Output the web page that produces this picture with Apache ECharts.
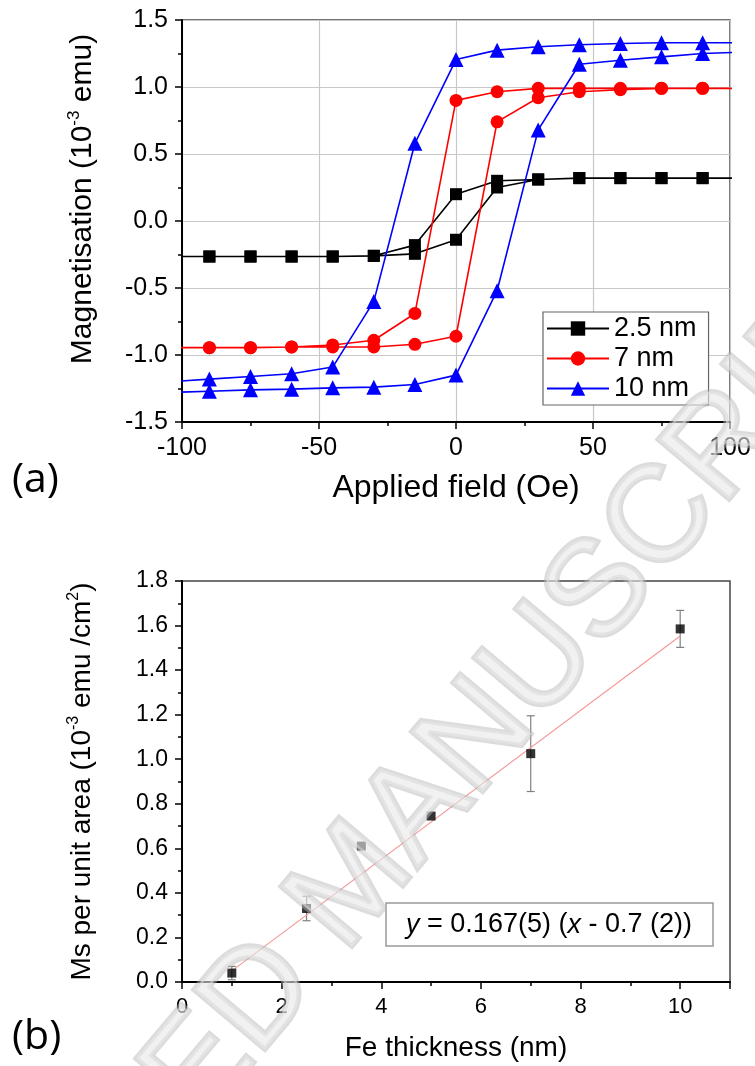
<!DOCTYPE html>
<html><head><meta charset="utf-8">
<script src="https://cdn.jsdelivr.net/npm/echarts@6/dist/echarts.min.js"></script>
<style>html,body{margin:0;padding:0;background:#fff}#c{width:755px;height:1066px}</style>
</head><body><div id="c"></div>
<script>
// ---------- Panel (a): hysteresis loops ----------
const fieldDesc = [105, 90, 75, 60, 45, 30, 15, 0, -15, -30, -45, -60, -75, -90, -105];
const fieldAsc  = [-105, -90, -75, -60, -45, -30, -15, 0, 15, 30, 45, 60, 75, 90, 105];
const loopNames = ['2.5 nm', '7 nm', '10 nm'];
const m25Desc = [0.32, 0.32, 0.32, 0.32, 0.32, 0.31, 0.30, 0.20, -0.18, -0.26, -0.265, -0.265, -0.265, -0.265, -0.265];
const m25Asc  = [-0.265, -0.265, -0.265, -0.265, -0.265, -0.26, -0.245, -0.14, 0.25, 0.31, 0.32, 0.32, 0.32, 0.32, 0.32];
const m7Desc  = [0.99, 0.99, 0.99, 0.99, 0.99, 0.99, 0.965, 0.90, -0.69, -0.89, -0.925, -0.94, -0.945, -0.945, -0.945];
const m7Asc   = [-0.945, -0.945, -0.945, -0.94, -0.94, -0.94, -0.92, -0.86, 0.74, 0.92, 0.965, 0.98, 0.99, 0.99, 0.99];
const m10Desc = [1.33, 1.33, 1.33, 1.325, 1.315, 1.30, 1.275, 1.205, 0.58, -0.60, -1.09, -1.14, -1.16, -1.18, -1.20];
const m10Asc  = [-1.28, -1.27, -1.26, -1.255, -1.245, -1.24, -1.22, -1.15, -0.52, 0.68, 1.17, 1.20, 1.225, 1.25, 1.26];
const fieldTicks = [-100, -50, 0, 50, 100];
const magTicks = [-1.5, -1.0, -0.5, 0.0, 0.5, 1.0, 1.5];

// ---------- Panel (b): Ms per unit area ----------
const thickness = [1.0, 2.5, 3.6, 5.0, 7.0, 10.0];
const msArea    = [0.04, 0.33, 0.61, 0.745, 1.025, 1.585];
const msErr     = [0.03, 0.055, 0, 0, 0.17, 0.083];
const fitX = [1.0, 10.0];
const fitY = [0.05, 1.553];
const thickTicks = [0, 2, 4, 6, 8, 10];
const msTicks = [0.0, 0.2, 0.4, 0.6, 0.8, 1.0, 1.2, 1.4, 1.6, 1.8];
const fitLabel = ['y', ' = 0.167(5) (', 'x', ' - 0.7 (2))'];

const FF = '"Liberation Sans", Arial, sans-serif';
const colors = ['#000000', '#ff0000', '#0000ff'];
const symbols = ['rect', 'circle', 'triangle'];
const sizes = [12, 13, 15];
const descs = [m25Desc, m7Desc, m10Desc];
const ascs = [m25Asc, m7Asc, m10Asc];

function loopData(d, a) {
  const out = [];
  fieldDesc.forEach((f, i) => out.push([f, d[i]]));
  fieldAsc.forEach((f, i) => out.push([f, a[i]]));
  return out;
}

function axisCommon(fs, margin) {
  return {
    type: 'value',
    axisLine: { show: true, onZero: false, lineStyle: { color: '#000', width: 2 } },
    axisTick: { show: true, inside: false, length: 7, lineStyle: { color: '#000', width: 1.5 } },
    minorTick: { show: true, splitNumber: 2, length: 4, lineStyle: { color: '#000', width: 1.5 } },
    axisLabel: { show: true, fontSize: fs, color: '#000', fontFamily: FF, margin: margin },
    nameLocation: 'middle'
  };
}
function rich(fs, sup) {
  return {
    n: { fontSize: fs, fontFamily: FF, color: '#000', lineHeight: fs + 4 },
    s: { fontSize: sup, fontFamily: FF, color: '#000', verticalAlign: 'top', lineHeight: fs + 4 }
  };
}

const series = [];
loopNames.forEach((nm, i) => {
  series.push({
    type: 'line', name: nm, xAxisIndex: 0, yAxisIndex: 0,
    data: loopData(descs[i], ascs[i]),
    symbol: symbols[i], symbolSize: sizes[i], showSymbol: true,
    itemStyle: { color: colors[i] },
    lineStyle: { color: colors[i], width: 1.6 },
    clip: true, animation: false, z: 3 + i
  });
});
series.push({
  type: 'custom', xAxisIndex: 1, yAxisIndex: 1, animation: false, z: 3,
  data: thickness.map((x, i) => [x, msArea[i] - msErr[i], msArea[i] + msErr[i], msErr[i]]),
  renderItem: function (params, api) {
    if (api.value(3) <= 0) return null;
    const lo = api.coord([api.value(0), api.value(1)]);
    const hi = api.coord([api.value(0), api.value(2)]);
    const w = 4;
    const st = { stroke: '#808080', lineWidth: 1.2 };
    return { type: 'group', children: [
      { type: 'line', shape: { x1: lo[0], y1: lo[1], x2: hi[0], y2: hi[1] }, style: st },
      { type: 'line', shape: { x1: lo[0] - w, y1: lo[1], x2: lo[0] + w, y2: lo[1] }, style: st },
      { type: 'line', shape: { x1: hi[0] - w, y1: hi[1], x2: hi[0] + w, y2: hi[1] }, style: st }
    ]};
  }
});
series.push({
  type: 'line', xAxisIndex: 1, yAxisIndex: 1, animation: false, z: 4,
  data: fitX.map((x, i) => [x, fitY[i]]), symbol: 'none',
  lineStyle: { color: '#f29a9a', width: 1.2 }
});
series.push({
  type: 'scatter', xAxisIndex: 1, yAxisIndex: 1, animation: false, z: 5,
  data: thickness.map((x, i) => [x, msArea[i]]),
  symbol: 'rect', symbolSize: 9, itemStyle: { color: '#000' }
});

const option = {
  animation: false,
  backgroundColor: '#fff',
  grid: [
    { left: 182, right: 25, top: 20, height: 402, show: true, borderColor: '#444', borderWidth: 1.5, backgroundColor: '#fff', containLabel: false },
    { left: 182, right: 25, top: 581, height: 401, show: true, borderColor: '#444', borderWidth: 1.5, backgroundColor: '#fff', containLabel: false }
  ],
  legend: {
    orient: 'vertical', left: 543, top: 312, data: loopNames, selectedMode: false,
    itemWidth: 62, itemHeight: 18, itemGap: 3, padding: [3, 12, 3, 3],
    backgroundColor: '#fff', borderColor: '#666', borderWidth: 1.2,
    textStyle: { fontSize: 27, color: '#000', fontFamily: FF }
  },
  xAxis: [
    Object.assign(axisCommon(25, 14), {
      gridIndex: 0, min: fieldTicks[0], max: fieldTicks[fieldTicks.length - 1], interval: fieldTicks[1] - fieldTicks[0],
      splitLine: { show: true, lineStyle: { color: '#c8c8c8', width: 1.2 } },
      name: 'Applied field (Oe)', nameGap: 50,
      nameTextStyle: { fontSize: 32, color: '#000', fontFamily: FF }
    }),
    Object.assign(axisCommon(22, 14), {
      gridIndex: 1, min: thickTicks[0], max: 11, interval: thickTicks[1] - thickTicks[0],
      splitLine: { show: false },
      name: 'Fe thickness (nm)', nameGap: 52,
      nameTextStyle: { fontSize: 28, color: '#000', fontFamily: FF }
    })
  ],
  yAxis: [
    Object.assign(axisCommon(25, 14), {
      gridIndex: 0, min: magTicks[0], max: magTicks[magTicks.length - 1], interval: magTicks[1] - magTicks[0],
      splitLine: { show: true, lineStyle: { color: '#c8c8c8', width: 1.2 } },
      name: '{n|Magnetisation (10}{s|-3}{n| emu)}', nameGap: 82,
      nameTextStyle: { rich: rich(30, 17), padding: [0, 0, 0, 44] }
    }),
    Object.assign(axisCommon(23, 14), {
      gridIndex: 1, min: msTicks[0], max: msTicks[msTicks.length - 1], interval: 0.2,
      splitLine: { show: false },
      name: '{n|Ms per unit area (10}{s|-3}{n| emu /cm}{s|2}{n|)}', nameGap: 84,
      nameTextStyle: { rich: rich(28, 16) }
    })
  ],
  graphic: [
    { type: 'text', left: 12, top: 460, style: { text: '(a)', font: '41px "Open Sans", Lato, sans-serif', fill: '#000' } },
    { type: 'text', left: 12, top: 1017, style: { text: '(b)', font: '41px "Open Sans", Lato, sans-serif', fill: '#000' } },
    { type: 'rect', shape: { x: 386, y: 903, width: 327, height: 43 }, style: { fill: '#fff', stroke: '#999', lineWidth: 1.5 }, z: 10 },
    { type: 'text', x: 549, y: 925, z: 11, style: {
        text: '{i|' + fitLabel[0] + '}{n|' + fitLabel[1] + '}{i|' + fitLabel[2] + '}{n|' + fitLabel[3] + '}',
        align: 'center', verticalAlign: 'middle',
        rich: {
          i: { fontSize: 27, fontFamily: FF, fontStyle: 'italic', fill: '#000' },
          n: { fontSize: 27, fontFamily: FF, fill: '#000' }
        }
      } },
    { type: 'text', x: 355, y: 885, rotation: 0.87, z: 50, silent: true, style: {
        text: 'ACCEPTED MANUSCRIPT', font: '135px "Liberation Sans", Arial, sans-serif',
        fill: 'rgba(232,232,232,0.6)', stroke: 'rgba(185,185,185,0.5)', lineWidth: 5,
        align: 'center', verticalAlign: 'middle'
      } }
  ],
  series: series
};
// formatters
option.yAxis[0].axisLabel.formatter = v => v.toFixed(1);
option.yAxis[1].axisLabel.formatter = v => v.toFixed(1);
option.xAxis[1].axisLabel.showMaxLabel = false;
option.xAxis[1].axisLabel.formatter = v => (v > 10.5 ? '' : String(Math.round(v)));

const chart = echarts.init(document.getElementById('c'), null, { renderer: 'canvas' });
chart.setOption(option);
</script></body></html>
